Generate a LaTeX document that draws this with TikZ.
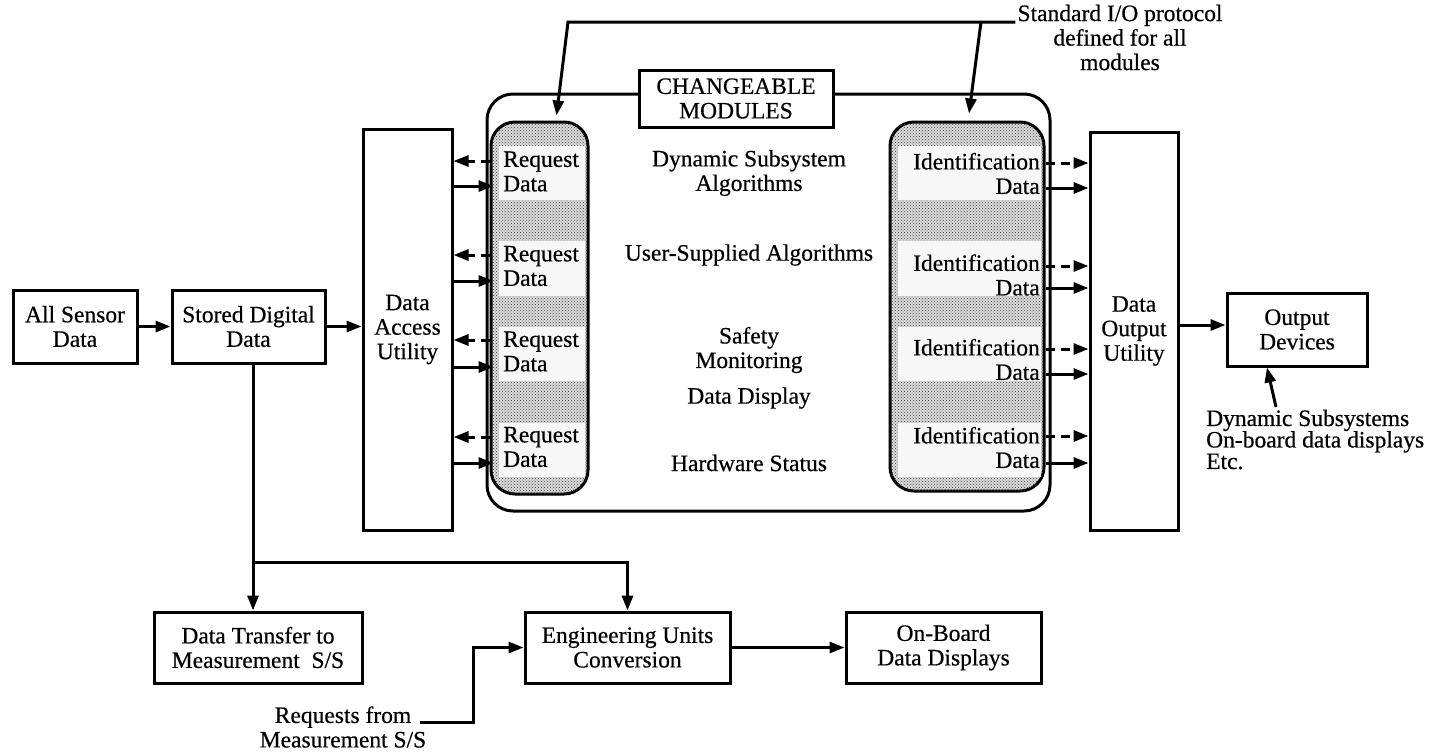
\documentclass[tikz,border=0pt]{standalone}
\usepackage{fontspec}
\setmainfont{Liberation Serif}[FakeBold=0.5]
\usetikzlibrary{arrows.meta,calc,patterns}
\newcommand\diafont{\fontsize{23.5}{24.5}\selectfont}
\newcommand\diafonttight{\fontsize{23.5}{21.5}\selectfont}

\begin{document}
\begin{tikzpicture}[x=1pt,y=-1pt,
  box/.style={draw,line width=3pt,fill=white,inner sep=0pt,align=center,font=\diafont},
  col/.style={draw,line width=3pt,rounded corners=24pt,fill=black!14,
    postaction={pattern=crosshatch dots,pattern color=black!75},inner sep=0pt},
  band/.style={fill=black!3,draw=none},
  txt/.style={inner sep=0pt,align=center,font=\diafont},
  link/.style={line width=3pt,-{Triangle[length=15pt,width=11pt]}},
  dlink/.style={link,dash pattern=on 9pt off 6pt}]

% canvas
\fill[white] (0,0) rectangle (1439,753);
\useasboundingbox (0,0) rectangle (1439,753);

% input chain
\node[box,minimum width=124,minimum height=73] (asd) at (75,326.5) {All Sensor\\Data};
\node[box,minimum width=153,minimum height=73] (sdd) at (248.5,326.5) {Stored Digital\\Data};
\node[box,minimum width=89,minimum height=401] (dau) at (407.5,329.5) {Data\\Access\\Utility};

% output chain
\node[box,minimum width=88,minimum height=398] (dou) at (1134,331) {Data\\Output\\Utility};
\node[box,minimum width=140,minimum height=73] (odv) at (1297,329.5) {Output\\Devices};

% lower row
\node[box,minimum width=208,minimum height=71] (dts) at (258,647.5) {Data Transfer to\\Measurement\ \ S/S};
\node[box,minimum width=205,minimum height=71] (euc) at (627.5,647.5) {Engineering Units\\Conversion};
\node[box,minimum width=195,minimum height=71] (obd) at (943.5,647.5) {On-Board\\Data Displays};

% changeable modules frame
\node[draw,line width=3pt,rounded corners=26pt,minimum width=563,minimum height=417,inner sep=0pt] (cmod) at (768.5,302.5) {};
\node[box,minimum width=194,minimum height=57] (cmb) at (736,98.5) {CHANGEABLE\\MODULES};

% interface columns
\node[col,minimum width=97,minimum height=372] (lcol) at (539.5,308) {};
\node[col,minimum width=154,minimum height=369] (rcol) at (967,306.5) {};
\foreach \t/\b in {146/200,241/296,327/381,423/477}{
  \fill[band] (499,\t) rectangle (585,\b);
  \fill[band] (898,\t) rectangle (1041,\b);
}

% column labels
\node[txt,anchor=west,align=left] (rq1) at (503,171.5) {Request\\Data};
\node[txt,anchor=west,align=left] (rq2) at (503,266) {Request\\Data};
\node[txt,anchor=west,align=left] (rq3) at (503,351.5) {Request\\Data};
\node[txt,anchor=west,align=left] (rq4) at (503,447) {Request\\Data};
\node[txt,anchor=east,align=right] (id1) at (1040,173.5) {Identification\\Data};
\node[txt,anchor=east,align=right] (id2) at (1040,275) {Identification\\Data};
\node[txt,anchor=east,align=right] (id3) at (1040,359.5) {Identification\\Data};
\node[txt,anchor=east,align=right] (id4) at (1040,447.5) {Identification\\Data};

% module names
\node[txt] (dsa) at (749,173) {Dynamic Subsystem\\Algorithms};
\node[txt] (usa) at (749,255) {User-Supplied Algorithms};
\node[txt] (smo) at (749,350) {Safety\\Monitoring};
\node[txt] (ddi) at (749,398) {Data Display};
\node[txt] (hws) at (749,463) {Hardware Status};

% free labels
\node[txt] (sio) at (1120,37.5) {Standard I/O protocol\\defined for all\\modules};
\node[txt,anchor=west,align=left,font=\diafonttight] (dsd) at (1206,439.5) {Dynamic Subsystems\\On-board data displays\\Etc.};
\node[txt] (rfm) at (343,727) {Requests from\\Measurement S/S};

% junctions
\coordinate (tj) at (253,562);
\coordinate (rj) at (981,22);
\coordinate (rqs) at (420,722);
\coordinate (dsp) at (1276,407);

% main flow
\draw[link] (asd.east) -- (sdd.west);
\draw[link] (sdd.east) -- (dau.west |- sdd.east);
\draw[link] (dou.east |- 0,325) -- (odv.west |- 0,325);
\draw[link] (sdd.south -| tj) -- (dts.north -| tj);
\draw[link] (tj) -| (euc.north);
\draw[link] (euc.east) -- (obd.west);
\draw[link] (rqs) -- ++(53,0) |- (euc.west);
\draw[link] (dsp) -- ($(odv.south west)!0.29!(odv.south east)$);

% standard I/O bracket
\draw[link] ([xshift=-2pt]sio.west |- 0,22) -- (568,22) -- ($(lcol.north)+(17,-5)$);
\draw[link] (rj) -- ($(rcol.north)+(2,-7)$);

% requests and returned data on the access side
\foreach \a/\b in {161/186,255/281,340/367,437/463}{
  \draw[dlink] (lcol.west |- 0,\a) -- (dau.east |- 0,\a);
  \draw[link,shorten >=-4pt] (dau.east |- 0,\b) -- (lcol.west |- 0,\b);
}
% identification and data on the output side
\foreach \a/\b in {163/188,266/288,349/374,436/463}{
  \draw[dlink] (rcol.east |- 0,\a) -- (dou.west |- 0,\a);
  \draw[link] (rcol.east |- 0,\b) -- (dou.west |- 0,\b);
}
\end{tikzpicture}
\end{document}
